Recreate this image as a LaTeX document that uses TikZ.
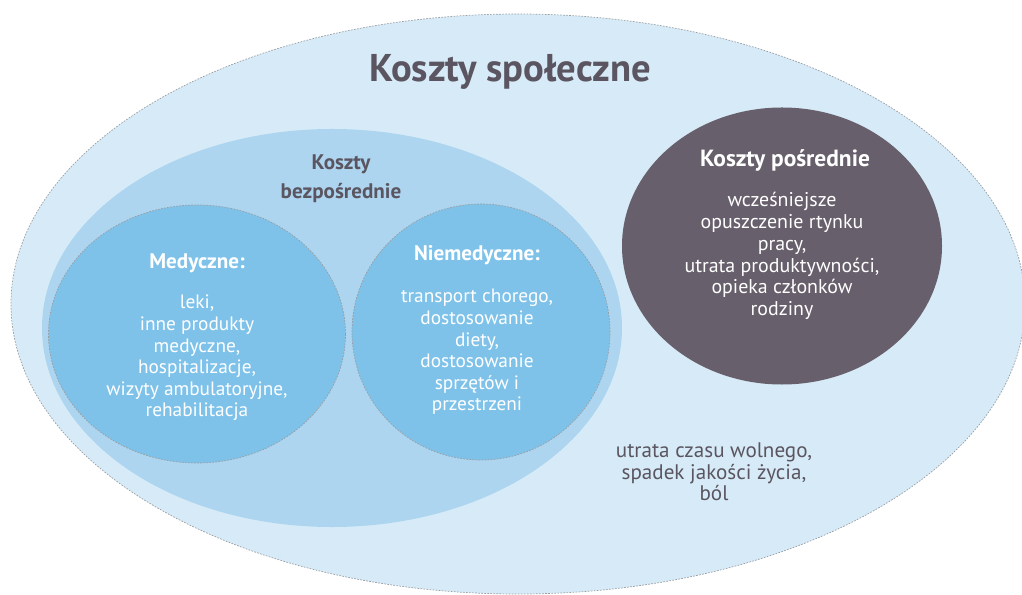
\documentclass[tikz,border=0pt]{standalone}
\usepackage{fontspec}
\setmainfont{PT Sans}
\usepackage{xcolor}
\usetikzlibrary{shapes.geometric,positioning,backgrounds}

\definecolor{socialblue}{HTML}{D6EBF7}
\definecolor{directblue}{HTML}{ADD5EF}
\definecolor{groupblue}{HTML}{7FC2E9}
\definecolor{indirectplum}{HTML}{675F6B}
\definecolor{labelgrey}{HTML}{5A5560}
\definecolor{rimgrey}{HTML}{9A9EA3}

\begin{document}
\begin{tikzpicture}[
    x=0.03cm, y=-0.03cm,
    area/.style={ellipse, inner sep=0pt},
    rim/.style={draw=rimgrey, dash pattern=on 1.4pt off 1.2pt, line width=0.6pt},
    heading/.style={font=\fontsize{18}{21}\selectfont\bfseries, text=white, align=center},
    itemlist/.style={font=\fontsize{16.5}{18.4}\selectfont, text=white, align=center},
    greytext/.style={text=labelgrey, align=center}
]
    \useasboundingbox (0,0) rectangle (1022,595);

    % Outer area: social costs
    \node [area, rim, fill=socialblue, minimum width=30.42cm, minimum height=17.4cm] (social) at (518,304) {};
    \node [greytext, font=\fontsize{33}{37}\selectfont\bfseries] (socialtitle) at (510,72) {Koszty społeczne};

    % Direct costs with two groups
    \node [area, fill=directblue, minimum width=17.4cm, minimum height=11.94cm] (direct) at (332,328) {};
    \node [greytext, font=\fontsize{18}{25}\selectfont\bfseries] (directtitle) at (341,179) {Koszty\\bezpośrednie};

    \node [area, rim, fill=groupblue, minimum width=8.91cm, minimum height=7.74cm] (medical) at (197,334) {};
    \node [area, rim, fill=groupblue, minimum width=7.74cm, minimum height=7.68cm] (nonmedical) at (481,332) {};

    \node [heading] (medhead) at (197,263) {Medyczne:};
    \node [itemlist] (meditems) at (197,358) {leki,\\inne produkty\\medyczne,\\hospitalizacje,\\wizyty ambulatoryjne,\\rehabilitacja};

    \node [heading] (nonmedhead) at (477,255) {Niemedyczne:};
    \node [itemlist] (nonmeditems) at (477,352) {transport chorego,\\dostosowanie\\diety,\\dostosowanie\\sprzętów i\\przestrzeni};

    % Indirect costs
    \node [area, fill=indirectplum, minimum width=9.6cm, minimum height=8.31cm] (indirect) at (782,246) {};
    \node [heading, font=\fontsize{20}{23}\selectfont\bfseries] (indhead) at (785,160) {Koszty pośrednie};
    \node [itemlist, font=\fontsize{17}{18.7}\selectfont] (inditems) at (782,256) {wcześniejsze\\opuszczenie rtynku\\pracy,\\utrata produktywności,\\opieka członków\\rodziny};

    % Intangible costs
    \node [greytext, font=\fontsize{18}{18.4}\selectfont] (intangible) at (714,472) {utrata czasu wolnego,\\spadek jakości życia,\\ból};
\end{tikzpicture}
\end{document}
